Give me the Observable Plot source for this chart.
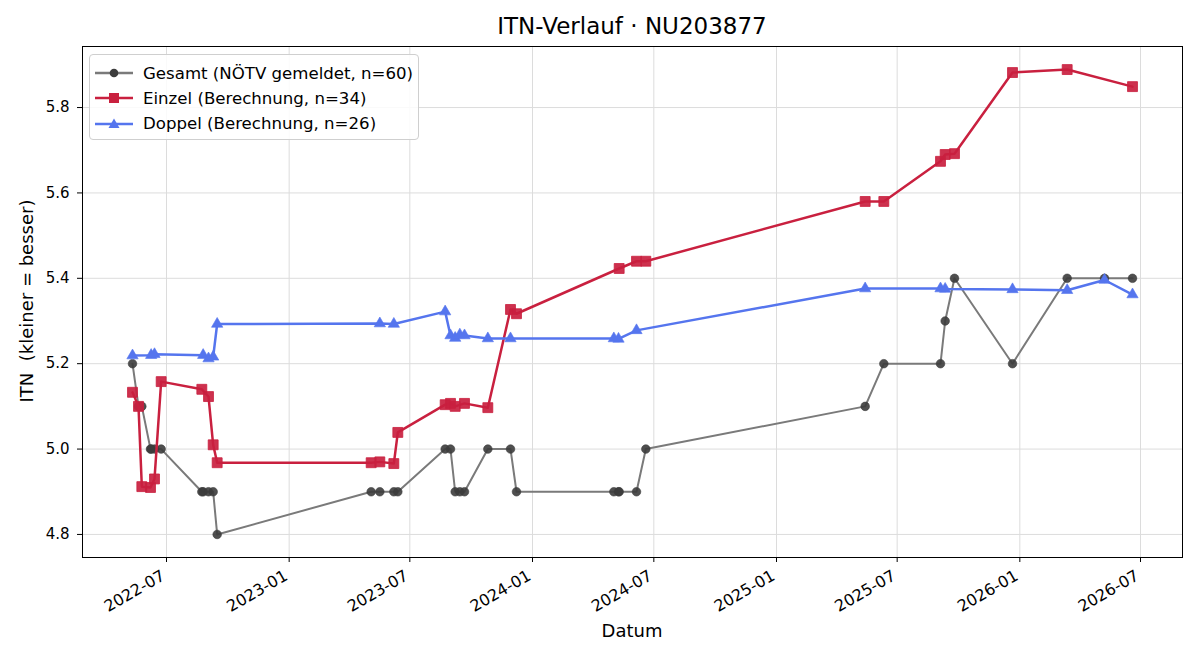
<!DOCTYPE html>
<html><head><meta charset="utf-8">
<script src="https://cdn.jsdelivr.net/npm/d3@7"></script>
<script src="https://cdn.jsdelivr.net/npm/@observablehq/plot@0.6"></script>
<style>
body{margin:0;background:#fff;font-family:"DejaVu Sans",sans-serif;}
#wrap{position:relative;width:1200px;height:660px;overflow:hidden;}
#title{position:absolute;left:82px;width:1100px;top:12px;text-align:center;font-size:23px;color:#000;line-height:28px;}
#xlabel{position:absolute;left:82px;width:1100px;top:620px;text-align:center;font-size:18px;line-height:22px;}
#ylabel{position:absolute;left:26px;top:301px;width:0;height:0;}
#ylabel span{position:absolute;white-space:nowrap;transform:translate(-50%,-50%) rotate(-90deg);font-size:18px;}
#legend{position:absolute;left:89px;top:54px;width:330px;height:86px;box-sizing:border-box;border:1px solid #cfcfcf;border-radius:4px;background:rgba(255,255,255,0.85);}
.li{position:absolute;left:5px;height:24px;display:flex;align-items:center;font-size:16.6px;white-space:nowrap;}
.li svg{margin-right:10px;}
</style></head>
<body><div id="wrap">
<div id="chart"></div>
<div id="title">ITN-Verlauf · NU203877</div>
<div id="xlabel">Datum</div>
<div id="ylabel"><span>ITN&nbsp; (kleiner = besser)</span></div>
<div id="legend"></div>
</div>
<script>
const gesamtDates = ["2022-05-11","2022-05-20","2022-05-25","2022-06-07","2022-06-08","2022-06-13","2022-06-23","2022-08-23","2022-08-25","2022-09-02","2022-09-09","2022-09-15","2023-05-04","2023-05-17","2023-06-07","2023-06-13","2023-08-23","2023-08-31","2023-09-07","2023-09-14","2023-09-21","2023-10-26","2023-11-29","2023-12-08","2024-05-02","2024-05-09","2024-05-10","2024-06-05","2024-06-19","2025-05-14","2025-06-11","2025-09-04","2025-09-11","2025-09-25","2025-12-21","2026-03-13","2026-05-08","2026-06-19"];
const gesamtValues = [5.2,5.1,5.1,5.0,5.0,5.0,5.0,4.9,4.9,4.9,4.9,4.8,4.9,4.9,4.9,4.9,5.0,5.0,4.9,4.9,4.9,5.0,5.0,4.9,4.9,4.9,4.9,4.9,5.0,5.1,5.2,5.2,5.3,5.4,5.2,5.4,5.4,5.4];

const einzelDates = ["2022-05-11","2022-05-20","2022-05-25","2022-06-07","2022-06-13","2022-06-23","2022-08-23","2022-09-02","2022-09-09","2022-09-15","2023-05-04","2023-05-17","2023-06-07","2023-06-13","2023-08-23","2023-08-31","2023-09-07","2023-09-21","2023-10-26","2023-11-29","2023-12-08","2024-05-10","2024-06-05","2024-06-19","2025-05-14","2025-06-11","2025-09-04","2025-09-11","2025-09-25","2025-12-21","2026-03-13","2026-06-19"];
const einzelValues = [5.133,5.10,4.912,4.91,4.93,5.158,5.14,5.123,5.01,4.968,4.968,4.97,4.966,5.039,5.104,5.107,5.10,5.107,5.097,5.327,5.317,5.423,5.44,5.44,5.58,5.58,5.674,5.69,5.692,5.882,5.889,5.849];

const doppelDates = ["2022-05-11","2022-06-08","2022-06-13","2022-08-25","2022-09-02","2022-09-09","2022-09-15","2023-05-17","2023-06-07","2023-08-23","2023-08-31","2023-09-07","2023-09-14","2023-09-21","2023-10-26","2023-11-29","2024-05-02","2024-05-09","2024-06-05","2025-05-14","2025-09-04","2025-09-11","2025-12-21","2026-03-13","2026-05-08","2026-06-19"];
const doppelValues = [5.219,5.22,5.222,5.22,5.212,5.216,5.293,5.294,5.293,5.322,5.266,5.26,5.268,5.266,5.259,5.259,5.259,5.258,5.278,5.376,5.376,5.375,5.374,5.372,5.396,5.362];

const xTickLabels = ["2022-07","2023-01","2023-07","2024-01","2024-07","2025-01","2025-07","2026-01","2026-07"];
const yTickValues = [4.8,5.0,5.2,5.4,5.6,5.8];
const seriesNames = ["Gesamt (NÖTV gemeldet, n=60)","Einzel (Berechnung, n=34)","Doppel (Berechnung, n=26)"];

const toRows = (ds, vs) => ds.map((d, i) => ({date: new Date(d + "T00:00:00Z"), v: vs[i]}));
const gesamt = toRows(gesamtDates, gesamtValues);
const einzel = toRows(einzelDates, einzelValues);
const doppel = toRows(doppelDates, doppelValues);
const xTicks = xTickLabels.map(s => new Date(s + "-01T00:00:00Z"));

const cG = "#7a7a7a", cGd = "#3c3c3c", cE = "#c9203f", cD = "#5575ee";

const chart = Plot.plot({
  width: 1200, height: 660,
  marginLeft: 82, marginRight: 18, marginTop: 46, marginBottom: 103,
  style: {fontFamily: "DejaVu Sans", fontSize: "14px", color: "#000", background: "transparent"},
  x: {type: "utc", domain: [new Date("2022-02-25T00:00:00Z"), new Date("2026-09-02T00:00:00Z")]},
  y: {domain: [4.746, 5.943]},
  marks: [
    Plot.gridX(xTicks, {stroke: "#dcdcdc", strokeOpacity: 1}),
    Plot.gridY(yTickValues, {stroke: "#dcdcdc", strokeOpacity: 1}),
    Plot.axisX(xTicks, {tickFormat: () => "", tickSize: 5, label: null}),
    Plot.axisX(xTicks, {tickFormat: d3.utcFormat("%Y-%m"), tickRotate: -30, tickSize: 0, tickPadding: 9, dx: -3, dy: 8, label: null, fontSize: 16}),
    Plot.axisY(yTickValues, {tickFormat: d3.format(".1f"), tickSize: 5, tickPadding: 8, label: null, fontSize: 15}),
    Plot.line(gesamt, {x: "date", y: "v", stroke: cG, strokeWidth: 2}),
    Plot.dot(gesamt, {x: "date", y: "v", r: 4.3, fill: cGd, stroke: cGd, strokeWidth: 0.6, fillOpacity: 0.9}),
    Plot.line(einzel, {x: "date", y: "v", stroke: cE, strokeWidth: 2.5}),
    Plot.dot(einzel, {x: "date", y: "v", symbol: "square", r: 5.6, fill: cE, stroke: cE, strokeWidth: 0.8, fillOpacity: 0.92}),
    Plot.line(doppel, {x: "date", y: "v", stroke: cD, strokeWidth: 2.5}),
    Plot.dot(doppel, {x: "date", y: "v", symbol: "triangle", r: 4.2, fill: cD, stroke: cD, strokeWidth: 0.6}),
    Plot.frame({stroke: "#000", strokeWidth: 1})
  ]
});
document.getElementById("chart").appendChild(chart);

// legend
const leg = document.getElementById("legend");
const styles = [
  {c: cG, m: cGd, sym: "circle"},
  {c: cE, m: cE, sym: "square"},
  {c: cD, m: cD, sym: "triangle"}
];
seriesNames.forEach((name, i) => {
  const s = styles[i];
  let marker;
  if (s.sym === "circle") marker = `<circle cx="19" cy="12" r="4.3" fill="${s.m}"/>`;
  else if (s.sym === "square") marker = `<rect x="14" y="7" width="10" height="10" fill="${s.m}"/>`;
  else marker = `<path d="M19,6.5 L24.5,16 L13.5,16 Z" fill="${s.m}"/>`;
  const div = document.createElement("div");
  div.className = "li";
  div.style.top = (6 + i * 25.3) + "px";
  div.innerHTML = `<svg width="38" height="24"><line x1="0" x2="38" y1="12" y2="12" stroke="${s.c}" stroke-width="2.5"/>${marker}</svg><span>${name}</span>`;
  leg.appendChild(div);
});
</script>
</body></html>
